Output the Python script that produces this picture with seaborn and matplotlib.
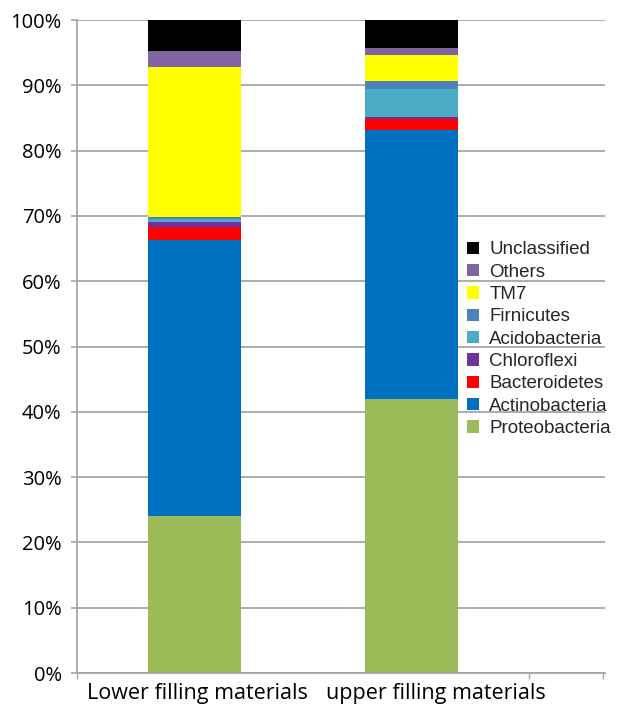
import matplotlib
matplotlib.use("Agg")
import matplotlib.pyplot as plt
import matplotlib.transforms as mtransforms
import numpy as np
import pandas as pd
import seaborn as sns

# Relative abundance (%) of bacterial phyla in the two filling layers
samples = ["Lower filling materials", "upper filling materials"]
phyla = ["Proteobacteria", "Actinobacteria", "Bacteroidetes", "Chloroflexi",
         "Acidobacteria", "Firnicutes", "TM7", "Others", "Unclassified"]
lower = [24.0, 42.3, 2.0, 0.7, 0.5, 0.4, 22.9, 2.5, 4.7]
upper = [42.0, 41.1, 1.8, 0.3, 4.3, 1.2, 3.9, 1.1, 4.3]
colors = ["#9BBB59", "#0070C0", "#FF0000", "#7030A0", "#4BACC6",
          "#4F81BD", "#FFFF00", "#8064A2", "#000000"]
y_ticks = [0, 10, 20, 30, 40, 50, 60, 70, 80, 90, 100]

sns.set_theme(style="white")
plt.rcParams["font.family"] = ["Open Sans", "DejaVu Sans"]

df = pd.DataFrame({"sample": np.repeat(samples, len(phyla)),
                   "phylum": phyla * len(samples),
                   "pct": lower + upper})
df["phylum"] = pd.Categorical(df["phylum"], categories=phyla, ordered=True)
df = df.sort_values(["sample", "phylum"])
df["top"] = df.groupby("sample")["pct"].cumsum()

fig = plt.figure(figsize=(6.23, 7.13), dpi=100)
ax = fig.add_axes([0.1236, 0.0561, 0.8475, 0.9158])

grid_c = "#A6A6A6"
for v in y_ticks:
    ax.axhline(v, color=grid_c, lw=1.3, zorder=0)

# Stacked bars: draw cumulative tops from the uppermost phylum down
for name, col in reversed(list(zip(phyla, colors))):
    sub = df[df["phylum"] == name]
    sns.barplot(data=sub, x="sample", y="top", order=samples, color=col,
                saturation=1, width=0.43, linewidth=0, label=name, ax=ax,
                zorder=2, errorbar=None)

ax.set_xlim(-0.541, 1.892)
ax.set_ylim(0, 100)
ax.set_yticks(y_ticks)
ax.set_yticklabels([f"{v}%" for v in y_ticks])
ax.set_xlabel("")
ax.set_ylabel("")

for s in ["top", "right"]:
    ax.spines[s].set_visible(False)
for s in ["left", "bottom"]:
    ax.spines[s].set_color(grid_c)
    ax.spines[s].set_linewidth(1.3)

ax.tick_params(axis="y", which="major", length=4, width=1.2, color=grid_c,
               pad=7, labelsize=14.5, labelcolor="#000000", left=True)
ax.set_xticks([0, 1])
ax.set_xticklabels(samples)
ax.tick_params(axis="x", which="major", length=0, pad=7, labelsize=15.5,
               labelcolor="#000000")
ax.set_xticks([-0.541, 1.541, 1.882], minor=True)
ax.tick_params(axis="x", which="minor", length=4, width=1, color=grid_c,
               bottom=True)

# nudge the category labels to their printed positions
offsets = [3, 24]
for lab, dx in zip(ax.get_xticklabels(), offsets):
    lab.set_transform(lab.get_transform() +
                      mtransforms.ScaledTranslation(dx / 100, 0, fig.dpi_scale_trans))

handles, labels = ax.get_legend_handles_labels()
leg = ax.legend(handles, labels, loc="upper left", bbox_to_anchor=(0.738, 0.661),
                frameon=False, handlelength=0.65, handleheight=0.65,
                handletextpad=0.55, labelspacing=0.285, borderpad=0, borderaxespad=0,
                prop={"family": ["Liberation Sans", "DejaVu Sans"], "size": 13.5})

fig.savefig("out.png", dpi=100, facecolor="white")
